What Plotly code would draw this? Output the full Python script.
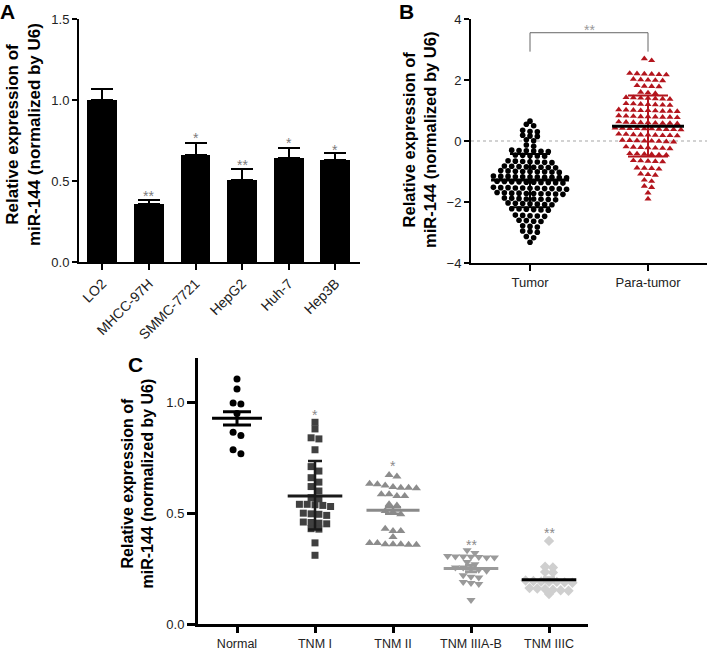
import numpy as np
import plotly.graph_objects as go

W, H = 707, 651
FONT = "Liberation Sans, Arial, Helvetica, sans-serif"

# ---------------- Panel A data ----------------
cell_lines = ["LO2", "MHCC-97H", "SMMC-7721", "HepG2", "Huh-7", "Hep3B"]
a_mean = [1.00, 0.358, 0.662, 0.504, 0.645, 0.632]
a_sem = [0.066, 0.025, 0.072, 0.068, 0.056, 0.039]
a_star_text = ["", "**", "*", "**", "*", "*"]
a_star_y = [None, 0.428, 0.784, 0.619, 0.753, 0.712]

# ---------------- Panel B data ----------------
b_groups = ["Tumor", "Para-tumor"]
b_tumor = [0.65, 0.55, 0.50, 0.35, 0.31, 0.30, 0.19, 0.16, 0.15, 0.04, 0.01,
           -0.13, -0.17, -0.31, -0.33, -0.35, -0.32, -0.34, -0.30,
           -0.46, -0.48, -0.50, -0.47, -0.49,
           -0.66, -0.67, -0.69, -0.70, -0.68, -0.65, -0.71,
           -0.83, -0.84, -0.86, -0.87, -0.85, -0.82, -0.88, -0.86,
           -0.99, -1.01, -1.00, -0.98, -1.02, -1.03, -0.97, -1.00, -1.01,
           -1.16, -1.17, -1.19, -1.20, -1.18, -1.15, -1.21, -1.17, -1.19, -1.18, -1.16,
           -1.33, -1.34, -1.36, -1.37, -1.35, -1.32, -1.38, -1.34, -1.36, -1.35,
           -1.53, -1.54, -1.56, -1.57, -1.55, -1.52, -1.58, -1.54, -1.56, -1.55, -1.53,
           -1.70, -1.71, -1.73, -1.74, -1.72, -1.69, -1.75, -1.71, -1.73, -1.72,
           -1.88, -1.89, -1.91, -1.92, -1.90, -1.87, -1.93, -1.90,
           -2.04, -2.05, -2.07, -2.08, -2.06, -2.03, -2.09,
           -2.23, -2.24, -2.26, -2.27, -2.25, -2.22,
           -2.43, -2.44, -2.46, -2.47, -2.45,
           -2.60, -2.61, -2.63, -2.64,
           -2.78, -2.80, -2.82,
           -2.95, -2.97, -2.99,
           -3.13, -3.17, -3.32]
b_para = [2.70, 2.64,
          2.22, 2.20, 2.18, 2.21, 2.19, 2.17,
          2.03, 2.01, 1.99, 2.00, 1.98,
          1.82, 1.80, 1.78, 1.79,
          1.60, 1.58, 1.56,
          1.42, 1.41, 1.39, 1.40, 1.38, 1.43, 1.37,
          1.22, 1.20, 1.18, 1.21, 1.19, 1.17, 1.23,
          1.02, 1.00, 0.98, 1.01, 0.99, 0.97, 1.03, 1.00, 0.98,
          0.82, 0.80, 0.78, 0.81, 0.79, 0.77, 0.83, 0.80, 0.78,
          0.62, 0.60, 0.58, 0.61, 0.59, 0.57, 0.63, 0.60, 0.58,
          0.42, 0.40, 0.38, 0.41, 0.39, 0.37, 0.43, 0.40, 0.38, 0.41,
          0.22, 0.20, 0.18, 0.21, 0.19, 0.17, 0.23, 0.20, 0.18,
          0.02, 0.00, -0.02, 0.01, -0.01, -0.03, 0.03, 0.00,
          -0.20, -0.22, -0.24, -0.21, -0.23, -0.19, -0.25,
          -0.42, -0.44, -0.46, -0.43, -0.45, -0.41,
          -0.64, -0.66, -0.68, -0.65, -0.67,
          -0.88, -0.90, -0.92, -0.89,
          -1.08, -1.10, -1.12,
          -1.28, -1.32, -1.48, -1.52, -1.70, -1.90]
b_mean = [-1.28, 0.48]
b_sd_hi = [-0.43, 1.49]
b_sd_lo = [-2.17, -0.51]
b_bracket_top = 3.55
b_bracket_foot = 2.93
b_star_y = 3.75

# ---------------- Panel C data ----------------
c_groups = ["Normal", "TNM I", "TNM II", "TNM IIIA-B", "TNM IIIC"]
c_normal = [1.105, 1.06, 0.997, 0.993, 0.95, 0.865, 0.85, 0.786, 0.768]
c_tnm1 = [0.91, 0.88, 0.84, 0.835, 0.786, 0.71, 0.69, 0.66, 0.64, 0.62, 0.60,
          0.57, 0.565, 0.54, 0.54, 0.538, 0.535, 0.53, 0.50, 0.497, 0.495, 0.49,
          0.46, 0.458, 0.455, 0.452, 0.43, 0.428, 0.366, 0.31]
c_tnm2 = [0.672, 0.665, 0.633, 0.63, 0.625, 0.618, 0.615, 0.615, 0.612,
          0.585, 0.585, 0.578, 0.578, 0.54, 0.535, 0.51, 0.505, 0.495,
          0.43, 0.42, 0.42, 0.392, 0.365, 0.365, 0.36, 0.36, 0.36, 0.358, 0.358]
c_tnm3ab = [0.333, 0.32, 0.307, 0.305, 0.305, 0.303, 0.302, 0.30, 0.30,
            0.28, 0.27, 0.255, 0.255, 0.25, 0.245, 0.24, 0.22, 0.213, 0.21,
            0.19, 0.185, 0.18, 0.108]
c_tnm3c = [0.375, 0.258, 0.255, 0.235, 0.232, 0.196, 0.194, 0.192, 0.19, 0.19,
           0.188, 0.186, 0.162, 0.16, 0.158, 0.155, 0.152, 0.15, 0.135]
c_mean = [0.928, 0.578, 0.513, 0.250, 0.200]
c_err_hi = [0.958, 0.735, 0.527, 0.265, 0.210]
c_err_lo = [0.898, 0.426, 0.497, 0.236, 0.190]
c_star_text = ["", "*", "*", "**", "**"]
c_star_y = [None, 0.955, 0.726, 0.369, 0.423]


def fx(px):
    return px / W


def fy(py):
    return 1 - py / H


def swarm(vals, center, dx, tol):
    vals = np.asarray(vals, dtype=float)
    order = np.argsort(-vals, kind="stable")
    rows = []
    for i in order:
        if rows and vals[i] >= vals[rows[-1][0]] - tol - 1e-9:
            rows[-1].append(i)
        else:
            rows.append([i])
    xs = np.zeros(len(vals))
    for r in rows:
        n = len(r)
        for k, i in enumerate(r):
            xs[i] = center + (k - (n - 1) / 2) * dx
    return xs


fig = go.Figure()

# ---------- Panel A ----------
fig.add_trace(go.Bar(
    x=list(range(len(cell_lines))), y=a_mean, width=0.64,
    marker=dict(color="black", line=dict(width=0)),
    error_y=dict(type="data", symmetric=False, array=a_sem,
                 arrayminus=[0] * len(a_sem), color="black",
                 thickness=2, width=11),
    xaxis="x", yaxis="y", showlegend=False))

# ---------- Panel B ----------
b_sets = [b_tumor, b_para]
b_style = [dict(symbol="circle", size=5.6, color="black"),
           dict(symbol="triangle-up", size=6.2, color="#b3151d")]
for i, vals in enumerate(b_sets):
    fig.add_trace(go.Scatter(
        x=swarm(vals, i, 0.062, 0.08), y=vals, mode="markers",
        marker=dict(**b_style[i], line=dict(width=0)),
        xaxis="x2", yaxis="y2", showlegend=False))

b_sd_color = ["black", "#b3151d"]
b_half = [0.33, 0.305]
for i in range(2):
    fig.add_trace(go.Scatter(
        x=[i], y=[b_mean[i]], mode="markers",
        marker=dict(size=1, color="rgba(0,0,0,0)"),
        error_y=dict(type="data", symmetric=False,
                     array=[b_sd_hi[i] - b_mean[i]],
                     arrayminus=[b_mean[i] - b_sd_lo[i]],
                     color=b_sd_color[i], thickness=2, width=20),
        xaxis="x2", yaxis="y2", showlegend=False))
    fig.add_trace(go.Scatter(
        x=[i], y=[b_mean[i]], mode="markers",
        marker=dict(size=1, color="rgba(0,0,0,0)"),
        error_x=dict(type="constant", value=b_half[i], color="black",
                     thickness=3, width=0),
        xaxis="x2", yaxis="y2", showlegend=False))

# significance bracket
fig.add_trace(go.Scatter(
    x=[0, 0, 1, 1],
    y=[b_bracket_foot, b_bracket_top, b_bracket_top, b_bracket_foot],
    mode="lines", line=dict(color="#666666", width=1),
    xaxis="x2", yaxis="y2", showlegend=False))

# ---------- Panel C ----------
c_sets = [c_normal, c_tnm1, c_tnm2, c_tnm3ab, c_tnm3c]
c_style = [dict(symbol="circle", size=7, color="black"),
           dict(symbol="square", size=7, color="#404040"),
           dict(symbol="triangle-up", size=8, color="#8c8c8c"),
           dict(symbol="triangle-down", size=8, color="#9a9a9a"),
           dict(symbol="diamond", size=8, color="#cfcfcf")]
for i, vals in enumerate(c_sets):
    fig.add_trace(go.Scatter(
        x=swarm(vals, i, 0.1, 0.022), y=vals, mode="markers",
        marker=dict(**c_style[i], line=dict(width=0)),
        xaxis="x3", yaxis="y3", showlegend=False))

c_line_color = ["black", "#1a1a1a", "#8a8a8a", "#9a9a9a", "black"]
c_err_color = ["black", "#1a1a1a", "#8a8a8a", "#9a9a9a", "#c8c8c8"]
c_half = [0.32, 0.35, 0.34, 0.35, 0.35]
c_cap = [14, 7, 8, 6, 6]
c_thick = [3, 2.5, 2.5, 3, 2.5]
for i in range(len(c_groups)):
    fig.add_trace(go.Scatter(
        x=[i], y=[c_mean[i]], mode="markers",
        marker=dict(size=1, color="rgba(0,0,0,0)"),
        error_y=dict(type="data", symmetric=False,
                     array=[c_err_hi[i] - c_mean[i]],
                     arrayminus=[c_mean[i] - c_err_lo[i]],
                     color=c_err_color[i], thickness=c_thick[i], width=c_cap[i]),
        xaxis="x3", yaxis="y3", showlegend=False))
    fig.add_trace(go.Scatter(
        x=[i], y=[c_mean[i]], mode="markers",
        marker=dict(size=1, color="rgba(0,0,0,0)"),
        error_x=dict(type="constant", value=c_half[i], color=c_line_color[i],
                     thickness=3, width=0),
        xaxis="x3", yaxis="y3", showlegend=False))

# ---------- annotations ----------
ann = []
for i, (t, yv) in enumerate(zip(a_star_text, a_star_y)):
    if t:
        ann.append(dict(x=i, y=yv, xref="x", yref="y", text=t, showarrow=False,
                        yshift=-3, font=dict(family=FONT, size=14, color="#7a7a7a")))
ann.append(dict(x=0.5, y=b_star_y, xref="x2", yref="y2", text="**", showarrow=False,
                yshift=-3, font=dict(family=FONT, size=14, color="#999999")))
for i, (t, yv) in enumerate(zip(c_star_text, c_star_y)):
    if t:
        ann.append(dict(x=i, y=yv, xref="x3", yref="y3", text=t, showarrow=False,
                        yshift=-3, font=dict(family=FONT, size=14, color="#8a8a8a")))

title_txt = "Relative expression of<br>miR-144 (normalized by U6)"
for (px, py, fs) in [(23, 135, 17), (419, 140, 16.5), (137.5, 484, 16)]:
    ann.append(dict(x=fx(px), y=fy(py), xref="paper", yref="paper",
                    text="<b>" + title_txt + "</b>", textangle=-90, showarrow=False,
                    xanchor="center", yanchor="middle",
                    font=dict(family=FONT, size=fs, color="black")))
for (lab, px, py) in [("A", 7.5, 11.5), ("B", 406.5, 11.5), ("C", 135.5, 364.5)]:
    ann.append(dict(x=fx(px), y=fy(py), xref="paper", yref="paper",
                    text="<b>" + lab + "</b>", showarrow=False,
                    xanchor="center", yanchor="middle",
                    font=dict(family=FONT, size=21, color="black")))

shapes = [dict(type="line", xref="x2 domain", yref="y2", x0=0, x1=1, y0=0, y1=0,
               line=dict(color="#c4c4c4", width=1.5, dash="dot"), layer="below")]


def axis_common(lw, tl, tw, fs):
    return dict(showline=True, linecolor="black", linewidth=lw, ticks="outside",
                ticklen=tl, tickwidth=tw, tickcolor="black", showgrid=False,
                zeroline=False, automargin=False,
                tickfont=dict(family=FONT, size=fs, color="#222222"),
                mirror=False)


fig.update_layout(
    template="none",
    width=W, height=H, margin=dict(l=0, r=0, t=0, b=0, pad=0),
    paper_bgcolor="white", plot_bgcolor="white",
    font=dict(family=FONT),
    bargap=0,
    xaxis=dict(domain=[fx(79), fx(360)], range=[-0.5, 5.53], anchor="y",
               tickmode="array", tickvals=list(range(len(cell_lines))),
               ticktext=cell_lines, tickangle=-45, **axis_common(2, 6, 2, 14)),
    yaxis=dict(domain=[fy(262), fy(19)], range=[0, 1.5], anchor="x",
               tickmode="array", tickvals=[0, 0.5, 1.0, 1.5],
               ticktext=["0.0", "0.5", "1.0", "1.5"], **axis_common(2, 5, 2, 13)),
    xaxis2=dict(domain=[fx(471), fx(707)], range=[-0.5, 1.5], anchor="y2",
                tickmode="array", tickvals=[0, 1], ticktext=b_groups,
                **axis_common(2, 6, 2, 13)),
    yaxis2=dict(domain=[fy(263), fy(19)], range=[-4, 4], anchor="x2",
                tickmode="array", tickvals=[-4, -2, 0, 2, 4],
                **axis_common(2, 5, 2, 13)),
    xaxis3=dict(domain=[fx(198), fx(588)], range=[-0.5, 4.5], anchor="y3",
                tickmode="array", tickvals=list(range(len(c_groups))),
                ticktext=c_groups, **axis_common(3, 6, 3, 12.5)),
    yaxis3=dict(domain=[fy(624), fy(358)], range=[0, 1.2], anchor="x3",
                tickmode="array", tickvals=[0, 0.5, 1.0],
                ticktext=["0.0", "0.5", "1.0"], **axis_common(3, 8, 3, 13)),
    annotations=ann, shapes=shapes,
)

fig.write_html(
    "out.html",
    config={"displayModeBar": False},
    post_script="document.body.style.margin='0';document.body.style.padding='0';"
                "document.body.style.overflow='hidden';",
)
